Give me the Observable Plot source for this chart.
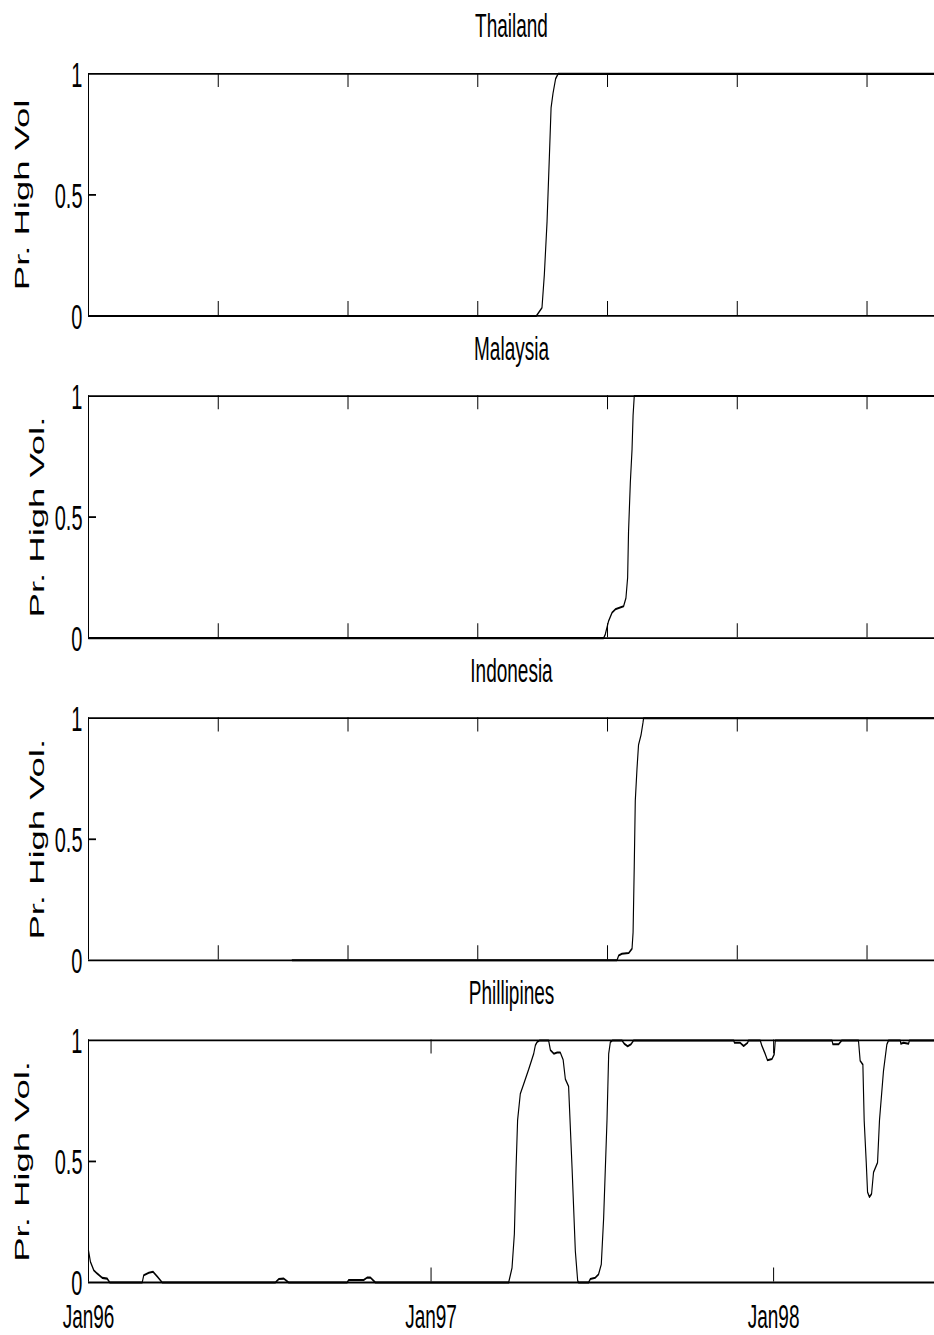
<!DOCTYPE html>
<html>
<head>
<meta charset="utf-8">
<script src="https://cdn.jsdelivr.net/npm/d3@7"></script>
<script src="https://cdn.jsdelivr.net/npm/@observablehq/plot@0.6"></script>
<style>
  html, body { margin: 0; padding: 0; background: #fff; overflow: hidden; }
  #chart { width: 934px; height: 1335px; }
</style>
</head>
<body>
<div id="chart"></div>
<script>
// ---------------- data (x = observation index, y = probability) ----------------
const countries = ["Thailand", "Malaysia", "Indonesia", "Phillipines"];
const yAxisLabels = ["Pr. High Vol", "Pr. High Vol.", "Pr. High Vol.", "Pr. High Vol."];

const thailand = [[0,0],[345.1,0],[349.5,0.034],[351.3,0.17],[353.4,0.39],[355.2,0.66],[356.5,0.86],[358,0.92],[360,0.98],[361.9,1],[652,1]];
const malaysia = [[0,0],[397,0],[398.3,0.016],[400.8,0.07],[403.5,0.105],[406,0.119],[412.4,0.132],[414.2,0.166],[415.5,0.25],[416.2,0.44],[417.6,0.645],[418.9,0.78],[419.7,0.92],[420.6,1],[652,1]];
const indonesia = [[157,0],[407.3,0],[408.6,0.02],[411.1,0.027],[416.3,0.03],[418.9,0.048],[419.7,0.115],[420.6,0.387],[421.4,0.66],[422.7,0.79],[423.9,0.89],[425.8,0.93],[427.3,0.98],[427.8,1],[652,1]];
const phillipines = [[0,0.132],[1.5,0.085],[4.1,0.05],[6.7,0.037],[10.6,0.019],[14.4,0.016],[16.4,0],
  [41.4,0],[42.6,0.03],[46.5,0.04],[49.8,0.044],[52.9,0.025],[56.8,0],
  [144.1,0],[146.6,0.014],[150.5,0.016],[154.3,0],
  [199.3,0],[200.5,0.01],[212.1,0.01],[214.7,0.02],[217.3,0.02],[221.1,0],
  [323.8,0],[326.4,0.06],[328.2,0.2],[329.5,0.47],[330.7,0.67],[332.8,0.78],[335.4,0.82],[339.2,0.88],[343.1,0.945],[344.4,0.98],[345.7,0.993],[347.7,1],
  [354.6,1],[356,0.96],[358.6,0.945],[361.2,0.95],[363.6,0.95],[365.8,0.92],[367.5,0.84],[370,0.81],[372.7,0.47],[375.2,0.13],[377,0.007],[377.7,0],
  [385.4,0],[386.7,0.014],[390.6,0.02],[393.1,0.034],[395.2,0.075],[397,0.265],[399.6,0.67],[400.9,0.945],[402.2,0.993],[403.9,1],
  [411.2,1],[412.9,0.986],[415.5,0.976],[418.1,0.984],[420.1,1],
  [497.2,1],[497.9,0.99],[502.3,0.99],[504.9,0.977],[507.9,0.99],[508.7,1],
  [517.7,1],[519,0.977],[521.6,0.943],[523.3,0.918],[526.7,0.923],[528.5,0.943],[529.3,1],
  [573,1],[573.7,0.984],[578,0.984],[580.6,1],
  [593.4,1],[594.7,0.916],[596.8,0.9],[597.8,0.67],[599.4,0.495],[600.4,0.373],[601.9,0.353],[603.5,0.366],[605,0.455],[608.1,0.495],[609.6,0.67],[612.7,0.875],[615.3,0.984],[616.6,1],
  [625.6,1],[626.1,0.986],[628.1,0.99],[632,0.986],[632.7,1],[652,1]];

const indexTicks = [100, 200, 300, 400, 500, 600];   // unlabeled ticks, panels 1-3
const janTicks = [0, 264, 528];                      // labeled ticks, bottom panel
const janLabels = ["Jan96", "Jan97", "Jan98"];
const yTicks = [0, 0.5, 1];
const yTickLabels = ["0", "0.5", "1"];
const xDomain = [0, 652];

// ---------------- tables built from the arrays ----------------
const seriesList = [thailand, malaysia, indonesia, phillipines];
const rows = seriesList.flatMap((s, k) => s.map(([t, v]) => ({country: countries[k], t, v})));
const tickRows = countries.flatMap(c => (c === "Phillipines" ? janTicks : indexTicks).map(x => ({country: c, x})));
const janRows = janTicks.map((x, i) => ({country: "Phillipines", x, label: janLabels[i]}));
const yTickRows = yTicks.map((y, i) => ({y, label: yTickLabels[i]}));
const labelRows = countries.map((c, i) => ({country: c, label: yAxisLabels[i]}));

// ---------------- layout (drawn at design height, stretched vertically) ----------------
const W = 934, H = 750, REAL_H = 1335;
const mTop = 39, mBottom = 28.5, mLeft = 88, mRight = 0;
const padInner = 0.246;
const step = (H - mTop - mBottom) / (countries.length - padInner);
const band = step * (1 - padInner);
const tickLen = 9;
const font = "'Liberation Sans', Arial, Helvetica, sans-serif";
const outer = new Set(["Thailand", "Phillipines"]);

const svg = Plot.plot({
  width: W,
  height: H,
  marginTop: mTop,
  marginBottom: mBottom,
  marginLeft: mLeft,
  marginRight: mRight,
  style: {fontFamily: font, background: "white", color: "black"},
  x: {domain: xDomain, axis: null},
  y: {domain: [0, 1], axis: null},
  fy: {domain: countries, paddingInner: padInner, paddingOuter: 0, axis: null, label: null},
  marks: [
    // frame: top, bottom, left
    Plot.ruleY([0, 1], {stroke: "black", strokeWidth: 1}),
    Plot.ruleX([xDomain[0]], {stroke: "black", strokeWidth: 1}),
    // inward ticks
    Plot.tickX(tickRows, {x: "x", fy: "country", insetBottom: band - tickLen, stroke: "black", strokeWidth: 1}),
    Plot.tickX(tickRows, {x: "x", fy: "country", insetTop: band - tickLen, stroke: "black", strokeWidth: 1}),
    Plot.tickY([0.5], {insetRight: (W - mLeft - mRight) - 8, stroke: "black", strokeWidth: 1}),
    // data
    Plot.line(rows, {x: "t", y: "v", fy: "country", z: "country", stroke: "black", strokeWidth: 1.15}),
    // y tick labels
    Plot.text(yTickRows, {y: "y", text: "label", frameAnchor: "left", textAnchor: "end", lineAnchor: "middle", dx: -6, dy: 0.8, fontSize: 20, fill: "black"}),
    // x tick labels (bottom panel)
    Plot.text(janRows, {x: "x", fy: "country", text: "label", frameAnchor: "bottom", textAnchor: "middle", lineAnchor: "top", dy: 12.2, fontSize: 19, fill: "black"}),
    // panel titles
    Plot.text(countries, {fy: d => d, text: d => d, frameAnchor: "top", textAnchor: "middle", lineAnchor: "middle", dy: -26.6, fontSize: 19, fill: "black"}),
    // y axis labels
    Plot.text(labelRows.filter(d => outer.has(d.country)), {fy: "country", text: "label", frameAnchor: "left", textAnchor: "middle", lineAnchor: "middle", rotate: -90, dx: -65.6, fontSize: 20.5, fill: "black"}),
    Plot.text(labelRows.filter(d => !outer.has(d.country)), {fy: "country", text: "label", frameAnchor: "left", textAnchor: "middle", lineAnchor: "middle", rotate: -90, dx: -51.3, fontSize: 20.5, fill: "black"})
  ]
});

// stretch vertically like the original figure
svg.setAttribute("preserveAspectRatio", "none");
svg.setAttribute("height", REAL_H);
svg.style.width = W + "px";
svg.style.height = REAL_H + "px";
svg.style.maxWidth = "none";
document.getElementById("chart").appendChild(svg);
</script>
</body>
</html>
